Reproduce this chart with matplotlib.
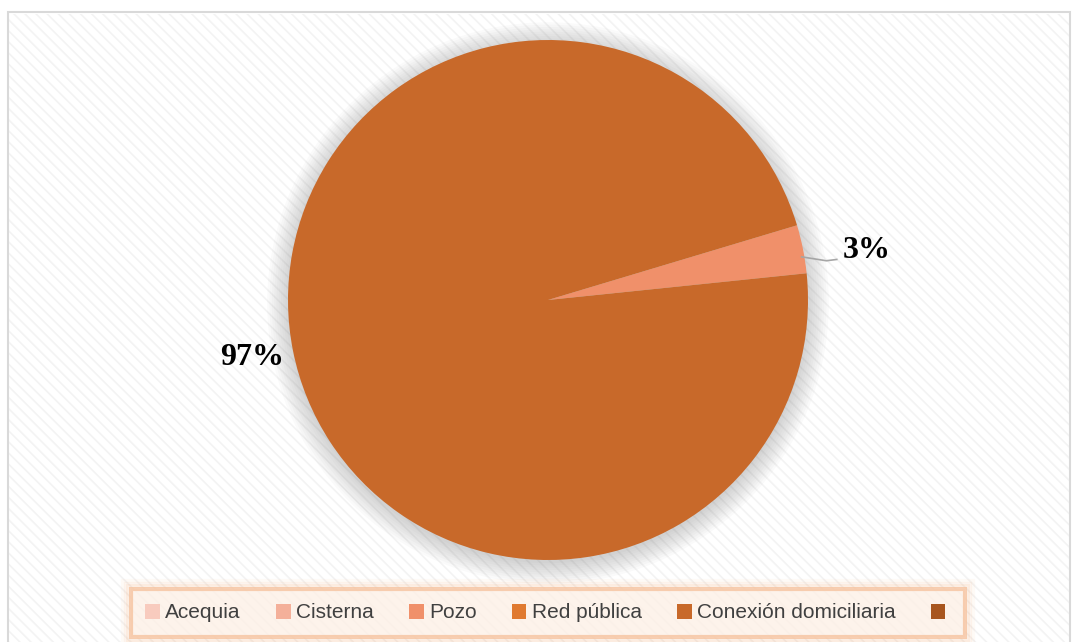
import matplotlib.pyplot as plt
import numpy as np
from matplotlib.patches import Rectangle, Circle

categorias = ['Acequia', 'Cisterna', 'Pozo', 'Red pública', 'Conexión domiciliaria', '']
valores = [0, 0, 3, 0, 97, 0]
colores = ['#F8CBBE', '#F4B09A', '#F0906A', '#E07A30', '#C8692A', '#A8561F']

fig = plt.figure(figsize=(10.76, 6.42), dpi=100)
fig.patch.set_facecolor('white')

# fondo rayado y marco
fondo = Rectangle((8 / 1076, -0.01), 1062 / 1076, 1 - 12 / 642 + 0.01, transform=fig.transFigure,
                  facecolor='white', edgecolor='#D9D9D9', linewidth=1.5, zorder=0)
fig.add_artist(fondo)
plt.rcParams['hatch.linewidth'] = 1.2
rayas = Rectangle((9 / 1076, -0.01), 1060 / 1076, 1 - 14 / 642 + 0.01, transform=fig.transFigure,
                  facecolor='none', edgecolor='#F3F3F3', hatch='\\\\\\', linewidth=0, zorder=0)
fig.add_artist(rayas)

ax = fig.add_axes([288 / 1076, 1 - 560 / 642, 520 / 1076, 520 / 642])

# sombra difusa
for r in np.linspace(1.08, 1.0, 10):
    ax.add_patch(Circle((0.0, -0.012), r, facecolor='#808080', alpha=0.04, edgecolor='none',
                        zorder=1, clip_on=False))

wedges, _ = ax.pie(valores, colors=colores, startangle=16.7, counterclock=False,
                   radius=1.0, wedgeprops=dict(linewidth=0))
for w in wedges:
    w.set_zorder(3)
ax.set_xlim(-1, 1)
ax.set_ylim(-1, 1)
ax.set_aspect('auto')
ax.axis('off')

total = sum(valores)
for w, v in zip(wedges, valores):
    if v == 0:
        continue
    mid = np.deg2rad((w.theta1 + w.theta2) / 2)
    pct = f'{round(100 * v / total)}%'
    if v / total < 0.1:
        x0, y0 = np.cos(mid), np.sin(mid)
        ax.plot([x0 - 0.005, x0 + 0.09, x0 + 0.13], [y0 - 0.03, y0 - 0.045, y0 - 0.04],
                color='#A6A6A6', linewidth=1.2, zorder=4, clip_on=False)
        ax.text(1.225, 0.19, pct, ha='center', va='center', fontsize=23, fontweight='bold',
                family='Liberation Serif', zorder=5)
    else:
        ax.text(1.16 * np.cos(mid), 1.16 * np.sin(mid) + 0.005, pct, ha='center', va='center',
                fontsize=23, fontweight='bold', family='Liberation Serif', zorder=5)

leg = fig.legend(wedges, categorias, loc='center', bbox_to_anchor=(548 / 1076, 1 - 613 / 642),
                 ncol=6, frameon=True, fancybox=False, handlelength=0.7,
                 handleheight=0.7, handletextpad=0.25, columnspacing=1.7, borderpad=0.7,
                 prop={'family': 'Liberation Sans', 'size': 15})
leg.get_frame().set_facecolor('#FDF0E6')
leg.get_frame().set_edgecolor('#F6C39F')
leg.get_frame().set_linewidth(3)
for t in leg.get_texts():
    t.set_color('#404040')

fig.canvas.draw()
bb = leg.get_window_extent().transformed(fig.transFigure.inverted())
for i, a in enumerate([0.12, 0.08, 0.05]):
    pad_x = (i + 1) * 2.5 / 1076
    pad_y = (i + 1) * 2.5 / 642
    fig.add_artist(Rectangle((bb.x0 - pad_x, bb.y0 - pad_y), bb.width + 2 * pad_x, bb.height + 2 * pad_y,
                             transform=fig.transFigure, facecolor='none', edgecolor='#F4A060',
                             alpha=a, linewidth=3, zorder=1))

fig.savefig('out.png', dpi=100)
